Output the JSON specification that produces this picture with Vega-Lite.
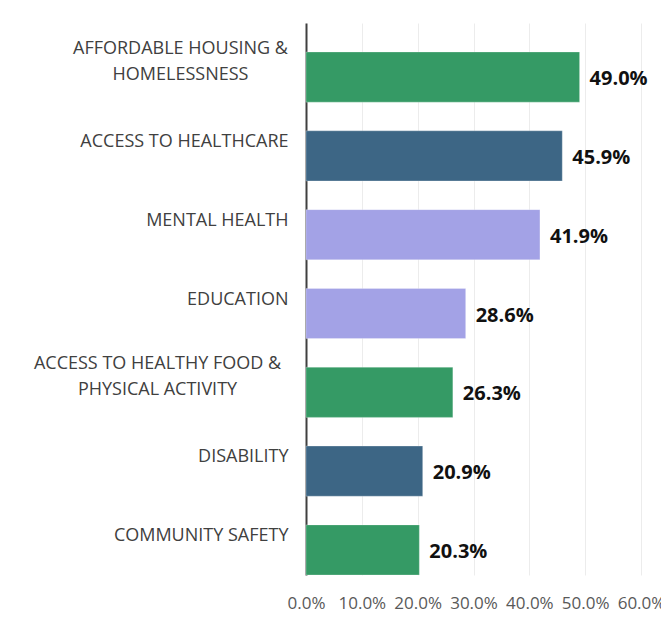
{
  "$schema": "https://vega.github.io/schema/vega-lite/v6.json",
  "autosize": {"type": "none"},
  "width": 335,
  "height": 552,
  "padding": {"left": 306, "top": 23, "right": 20, "bottom": 44},
  "background": "white",
  "config": {"view": {"stroke": null}, "font": "Open Sans"},
  "data": {
    "values": [
      {"issue": "AFFORDABLE HOUSING &|HOMELESSNESS", "share": 0.49, "group": "A"},
      {"issue": "ACCESS TO HEALTHCARE", "share": 0.459, "group": "B"},
      {"issue": "MENTAL HEALTH", "share": 0.419, "group": "C"},
      {"issue": "EDUCATION", "share": 0.286, "group": "C"},
      {"issue": "ACCESS TO HEALTHY FOOD &|PHYSICAL ACTIVITY", "share": 0.263, "group": "A"},
      {"issue": "DISABILITY", "share": 0.209, "group": "B"},
      {"issue": "COMMUNITY SAFETY", "share": 0.203, "group": "A"}
    ]
  },
  "encoding": {
    "y": {
      "field": "issue",
      "type": "nominal",
      "sort": null,
      "scale": {"paddingInner": 0.364, "paddingOuter": 0.184, "align": 1},
      "axis": {
        "title": null,
        "labelExpr": "split(datum.label, '|')",
        "labelFontSize": 18,
        "labelColor": "#404040",
        "labelAlign": {"condition": {"test": "indexof(datum.value, '|') >= 0", "value": "center"}, "value": "right"},
        "labelPadding": {"condition": [
          {"test": "indexof(datum.value, 'AFFORDABLE') >= 0", "value": 126},
          {"test": "indexof(datum.value, 'FOOD') >= 0", "value": 149}
        ], "value": 18},
        "labelOffset": {"condition": {"test": "indexof(datum.value, '|') >= 0", "value": -28}, "value": -14},
        "labelLineHeight": 26,
        "labelLimit": 400,
        "ticks": false,
        "domainColor": "#404040",
        "domainWidth": 2,
        "grid": false
      }
    },
    "x": {
      "field": "share",
      "type": "quantitative",
      "scale": {"domain": [0, 0.6]},
      "axis": {
        "title": null,
        "format": ".1%",
        "values": [0, 0.1, 0.2, 0.3, 0.4, 0.5, 0.6],
        "labelFontSize": 17,
        "labelColor": "#595959",
        "labelPadding": 20,
        "labelOverlap": false,
        "ticks": false,
        "domain": false,
        "grid": true,
        "gridColor": "#ececec",
        "labelFlush": false
      }
    }
  },
  "layer": [
    {
      "mark": {"type": "bar", "stroke": "white", "strokeOpacity": 0.25, "strokeWidth": 1},
      "encoding": {
        "color": {
          "field": "group",
          "type": "nominal",
          "scale": {"domain": ["A", "B", "C"], "range": ["#359a65", "#3d6685", "#a3a2e6"]},
          "legend": null
        }
      }
    },
    {
      "mark": {"type": "text", "align": "left", "baseline": "middle", "dx": 10, "dy": 2, "fontSize": 20, "fontWeight": "bold", "color": "#111111"},
      "encoding": {
        "text": {"field": "share", "type": "quantitative", "format": ".1%"}
      }
    }
  ]
}
